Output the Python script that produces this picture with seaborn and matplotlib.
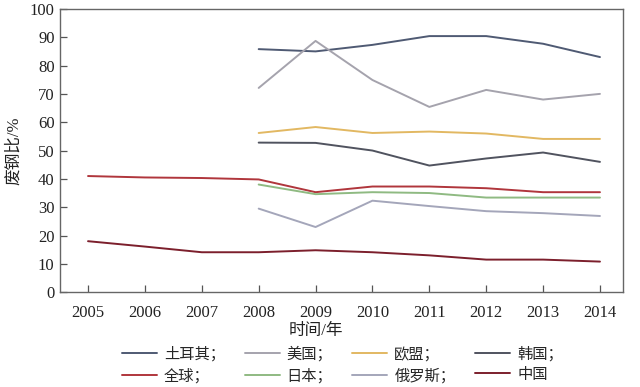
import pandas as pd
import seaborn as sns
import matplotlib.pyplot as plt
import numpy as np

# Dati
years = [2005, 2006, 2007, 2008, 2009, 2010, 2011, 2012, 2013, 2014]
countries = ["土耳其；", "美国；", "欧盟；", "韩国；", "全球；", "日本；", "俄罗斯；", "中国"]

turkey = [np.nan, np.nan, np.nan, 85.8, 85.0, 87.3, 90.4, 90.4, 87.7, 83.0]
usa    = [np.nan, np.nan, np.nan, 72.1, 88.7, 74.9, 65.4, 71.4, 68.0, 70.0]
eu     = [np.nan, np.nan, np.nan, 56.2, 58.3, 56.2, 56.7, 56.0, 54.1, 54.1]
korea  = [np.nan, np.nan, np.nan, 52.8, 52.7, 50.0, 44.7, 47.2, 49.3, 46.0]
world  = [41.0, 40.5, 40.3, 39.8, 35.3, 37.3, 37.3, 36.7, 35.3, 35.3]
japan  = [np.nan, np.nan, np.nan, 38.0, 34.6, 35.3, 35.0, 33.4, 33.4, 33.4]
russia = [np.nan, np.nan, np.nan, 29.5, 23.0, 32.3, 30.4, 28.6, 27.9, 26.9]
china  = [18.0, 16.1, 14.1, 14.1, 14.8, 14.1, 13.0, 11.5, 11.5, 10.8]

colors = ["#4f5a73", "#a5a3ad", "#e2b862", "#50535f",
          "#b0363c", "#8fba82", "#a4a6ba", "#7c1f2c"]

series = [turkey, usa, eu, korea, world, japan, russia, china]
df = pd.DataFrame({"year": years * len(countries),
                   "country": np.repeat(countries, len(years)),
                   "value": np.concatenate(series)}).dropna()

sns.set_style("ticks")
plt.rcParams['font.family'] = ['Liberation Serif', 'Noto Sans CJK SC']

fig = plt.figure(figsize=(6.4, 3.87), dpi=100)
ax = fig.add_axes([0.094, 0.245, 0.879, 0.732])

sns.lineplot(data=df, x="year", y="value", hue="country", hue_order=countries,
             palette=colors, linewidth=1.4, ax=ax, legend=True)

ax.set_xlim(2004.51, 2014.40)
ax.set_ylim(0, 100)
ax.set_xticks(years)
ax.set_yticks(range(0, 101, 10))
ax.tick_params(direction="in", length=5, width=0.9, color="#555555",
               labelsize=12, labelcolor="#222222")
ax.tick_params(axis="x", pad=9)
ax.tick_params(axis="y", pad=4)
for s in ax.spines.values():
    s.set_color("#666666")
    s.set_linewidth(1.0)

ax.set_xlabel("时间/年", fontsize=12, color="#222222")
ax.xaxis.set_label_coords(0.455, -0.11)
ax.set_ylabel("废钢比/%", fontsize=12, color="#222222")
ax.yaxis.set_label_coords(-0.068, 0.5)

# legenda riga per riga (4 colonne)
handles, labels = ax.get_legend_handles_labels()
order = [0, 4, 1, 5, 2, 6, 3, 7]
ax.legend([handles[i] for i in order], [labels[i] for i in order], ncol=4,
          frameon=False, fontsize=11, loc="center",
          bbox_to_anchor=(0.535, 0.058), bbox_transform=fig.transFigure,
          handlelength=2.3, columnspacing=1.3, handletextpad=0.45, labelspacing=0.4)

plt.savefig("out.png", dpi=100)
